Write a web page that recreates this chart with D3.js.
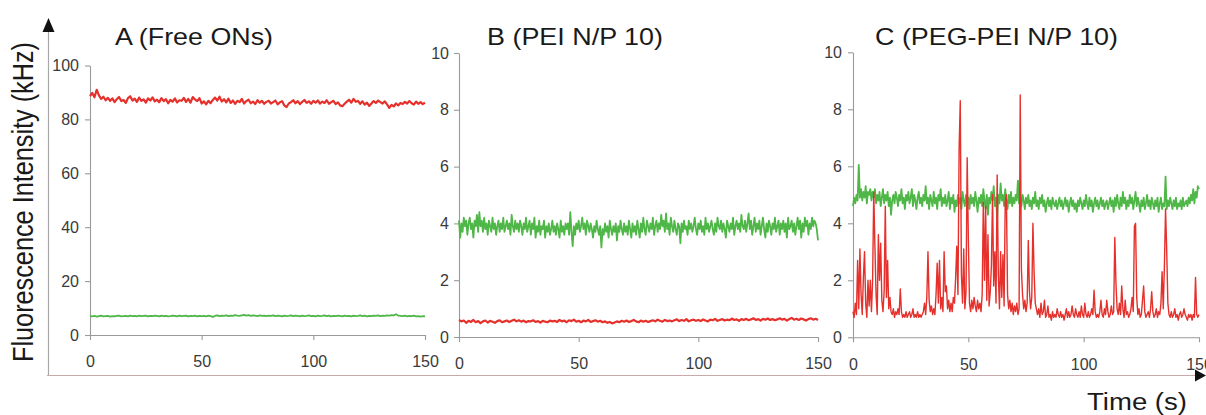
<!DOCTYPE html>
<html><head><meta charset="utf-8">
<script src="https://cdn.jsdelivr.net/npm/d3@7"></script>
<style>body{margin:0;background:#fff}svg text{font-family:"Liberation Sans",Arial,sans-serif}</style>
</head><body><svg id="c" width="1206" height="415"></svg>
<script>
// ---- data ----
const timeTicks = [0, 50, 100, 150];
const ticksA = [0, 20, 40, 60, 80, 100];
const ticksBC = [0, 2, 4, 6, 8, 10];
const titles = ["A (Free ONs)", "B (PEI N/P 10)", "C (PEG-PEI N/P 10)"];
const yTitle = "Fluorescence Intensity (kHz)";
const xTitle = "Time (s)";
const timeSpan = 150;

// Panel A, red (1 s sampling)
const redA = [
88.6,89.8,88.2,91.0,88.9,87.6,88.4,87.1,88.0,86.9,
87.8,86.4,87.5,88.3,86.8,87.2,86.1,87.9,88.6,87.0,
87.7,86.5,88.1,86.9,87.4,86.2,87.8,87.0,88.2,86.7,
87.3,86.4,87.9,86.8,87.5,86.0,87.2,86.6,87.8,86.3,
87.1,86.9,88.0,86.5,87.6,86.2,88.3,87.4,86.8,87.9,
85.9,86.7,85.6,86.9,86.0,87.2,88.1,87.0,88.4,86.6,
87.5,86.3,87.7,86.1,87.0,85.8,86.9,86.4,87.6,85.9,
86.8,87.3,86.0,86.6,85.7,87.1,86.2,86.9,85.8,86.5,
86.9,85.9,86.4,87.0,85.6,86.3,86.8,85.2,84.6,85.9,
86.4,87.1,86.0,86.8,85.7,86.5,87.2,86.1,86.7,85.8,
86.9,86.2,87.0,85.9,86.6,86.1,87.1,85.8,86.4,86.9,
85.7,86.3,85.2,84.9,85.8,86.6,87.3,86.2,87.6,86.5,
86.9,85.8,86.7,85.5,86.2,85.0,85.9,86.8,86.1,87.0,
86.4,85.9,86.7,85.6,84.3,85.4,84.8,85.9,85.2,86.1,
85.7,86.5,85.9,86.8,86.0,85.5,86.6,85.8,86.4,85.7,
86.2];
// Panel A, green (1 s sampling)
const greenA = [
7.0,6.9,7.1,6.8,7.0,7.2,6.9,7.0,7.1,6.8,
7.0,6.9,7.1,7.2,6.9,7.0,7.1,6.9,7.2,7.0,
7.1,6.9,7.2,7.0,7.1,7.2,6.9,7.1,7.0,7.2,
7.1,6.9,7.2,7.0,7.1,6.9,7.0,7.2,7.1,6.9,
7.2,7.0,7.1,7.2,6.9,7.1,7.0,7.2,6.9,7.1,
7.0,7.1,6.9,7.2,7.0,6.7,7.1,7.3,7.0,7.2,
7.1,7.3,7.0,7.2,7.1,7.4,7.2,7.1,7.3,7.5,
7.2,7.4,7.1,7.3,7.2,7.0,7.3,7.1,7.2,7.0,
7.2,7.1,7.3,7.0,7.2,7.1,6.9,7.2,7.0,7.1,
7.3,7.0,7.2,7.1,6.9,7.2,7.0,7.1,7.3,7.0,
7.1,6.9,7.2,7.0,7.1,7.3,7.0,7.2,6.9,7.1,
7.0,7.2,7.1,6.9,7.2,7.0,7.1,6.9,7.2,7.0,
7.1,7.3,7.0,7.2,6.9,7.1,7.0,7.2,7.1,7.3,
7.0,7.2,7.1,7.3,7.2,7.4,7.3,7.7,7.2,7.1,
7.0,7.2,6.9,7.1,7.0,7.2,6.9,7.0,6.8,7.0,
6.9];
// Panel B, red (1 s sampling)
const redB = [
0.60,0.55,0.58,0.50,0.57,0.53,0.60,0.52,0.56,0.49,
0.55,0.58,0.51,0.57,0.54,0.50,0.56,0.59,0.52,0.55,
0.58,0.53,0.57,0.61,0.55,0.59,0.54,0.58,0.52,0.56,
0.55,0.59,0.53,0.56,0.51,0.57,0.54,0.52,0.58,0.55,
0.57,0.53,0.60,0.55,0.58,0.52,0.59,0.56,0.61,0.54,
0.57,0.52,0.58,0.55,0.60,0.53,0.56,0.59,0.54,0.57,
0.52,0.55,0.50,0.53,0.48,0.51,0.55,0.52,0.57,0.54,
0.58,0.53,0.56,0.60,0.55,0.52,0.58,0.54,0.57,0.53,
0.56,0.59,0.55,0.61,0.57,0.54,0.60,0.56,0.58,0.55,
0.59,0.62,0.56,0.60,0.57,0.63,0.55,0.59,0.61,0.57,
0.60,0.56,0.62,0.58,0.55,0.61,0.59,0.64,0.57,0.60,
0.63,0.58,0.61,0.59,0.65,0.60,0.62,0.57,0.63,0.60,
0.64,0.59,0.62,0.66,0.60,0.63,0.58,0.64,0.61,0.65,
0.60,0.63,0.59,0.62,0.66,0.61,0.64,0.58,0.63,0.67,
0.61,0.64,0.60,0.65,0.62,0.58,0.63,0.66,0.61,0.64,
0.60];
// Panel B, green (0.5 s sampling)
const greenB = [
4.1,3.5,4.0,3.7,4.2,3.9,4.1,3.6,4.0,4.2,
3.8,4.0,3.5,4.1,3.9,4.3,3.7,4.4,3.9,4.1,
3.7,4.2,3.8,4.0,3.6,4.1,3.9,3.7,4.2,3.8,
4.0,3.6,3.9,4.1,3.7,4.0,3.8,4.2,3.7,3.9,
4.1,3.8,4.0,3.6,4.3,3.9,3.7,4.1,3.8,4.0,
3.7,4.1,3.9,3.6,4.0,3.8,4.2,3.7,3.9,4.1,
3.6,4.0,3.8,4.2,3.5,3.9,3.7,4.1,3.6,3.9,
3.8,4.1,3.5,3.9,3.7,4.0,3.6,3.8,4.1,3.7,
3.9,3.6,4.0,3.8,3.5,4.1,3.7,3.9,3.6,4.0,
3.8,4.0,3.6,4.4,3.7,3.2,3.9,3.6,4.0,3.8,
4.1,3.7,3.9,4.2,3.8,4.0,3.6,4.1,3.9,3.7,
4.0,3.8,3.5,3.9,3.7,4.1,3.8,3.6,3.9,3.15,
3.8,3.6,4.0,3.7,3.9,3.5,4.1,3.8,3.6,3.9,
3.7,4.0,3.4,3.9,3.7,4.1,3.8,3.6,4.0,3.7,
3.9,3.6,4.1,3.8,3.5,4.0,3.7,3.9,3.6,4.1,
3.8,3.5,4.0,3.7,4.2,3.8,3.6,4.1,3.9,3.7,
4.0,3.8,4.2,3.6,3.9,4.1,3.7,4.0,3.8,4.3,
3.9,4.1,3.7,4.35,3.8,4.0,3.6,4.2,3.9,3.7,
4.1,3.8,3.6,4.0,3.9,3.3,4.0,3.7,4.1,3.8,
3.9,3.6,4.1,3.8,4.0,3.7,3.9,4.2,3.8,3.6,
4.0,3.8,4.1,3.7,3.9,3.6,4.2,3.8,4.0,3.7,
3.9,4.1,3.8,3.6,4.0,3.7,4.2,3.9,3.8,4.1,
3.7,4.0,3.8,3.5,4.1,3.9,3.7,4.0,3.8,4.2,
3.6,3.9,4.1,3.8,4.0,3.7,4.3,3.9,3.8,4.1,
3.7,4.0,4.35,3.8,4.1,3.6,3.9,4.2,3.7,4.0,
3.8,4.1,3.6,3.9,4.2,3.8,3.5,4.0,3.7,4.1,
3.9,3.6,4.0,3.8,4.2,3.7,3.9,4.1,3.6,4.0,
3.8,4.1,3.7,4.0,3.5,4.2,3.8,3.9,4.1,3.7,
4.0,3.6,3.9,4.2,3.8,4.1,3.5,4.0,3.7,4.2,
3.9,4.1,3.6,4.0,3.8,4.2,3.9,4.1,4.0,3.8,
3.4];
// Panel C, red (0.5 s sampling)
const redC = [
0.9,0.7,1.2,0.8,2.7,1.0,3.1,1.5,0.8,2.1,
3.0,1.2,0.7,2.0,1.1,2.0,0.9,2.0,5.1,3.2,
1.5,0.8,3.6,2.0,3.3,1.3,0.9,1.6,4.6,1.4,
2.7,1.0,1.4,0.9,0.8,1.0,0.7,0.9,0.8,1.0,
0.8,1.7,0.9,0.7,0.8,0.7,0.9,0.7,0.8,0.9,
0.7,0.8,1.0,0.7,0.8,0.7,0.9,0.7,0.8,0.7,
0.8,0.9,1.2,0.8,1.4,3.0,1.3,0.9,1.1,0.8,
1.0,0.8,1.5,2.6,1.2,2.7,1.0,1.4,0.9,3.0,
1.6,1.8,1.0,1.3,0.9,1.2,0.9,1.4,1.2,2.1,
3.2,1.5,6.6,8.3,2.2,1.2,3.1,1.0,1.6,6.3,
3.5,1.2,0.9,1.3,1.0,1.4,1.1,0.9,1.3,1.0,
1.2,0.9,1.5,4.75,2.0,4.6,1.3,3.6,1.1,1.6,
2.5,5.0,1.8,3.0,1.2,5.7,2.2,1.0,3.0,1.4,
2.9,1.1,4.75,5.0,1.5,1.0,1.3,0.9,1.2,0.8,
1.1,0.9,1.2,0.8,1.0,8.5,2.4,1.5,1.0,1.3,
0.9,1.2,3.4,1.6,1.0,1.4,4.0,2.3,1.2,1.0,
0.8,1.0,0.7,1.2,0.8,0.9,1.3,0.7,0.8,1.1,
0.7,0.8,0.6,0.9,0.7,0.8,0.7,1.0,0.8,0.7,
0.9,0.7,0.8,0.6,0.8,1.0,0.7,0.9,0.7,0.8,
1.1,0.8,0.7,1.0,0.8,0.7,0.9,0.7,1.1,0.8,
0.7,1.2,0.8,0.7,0.9,0.7,0.8,1.0,0.8,1.65,
0.9,0.7,0.8,0.7,0.9,1.3,0.8,0.7,1.0,0.8,
1.3,0.9,0.7,0.8,1.1,0.8,0.9,3.5,1.9,1.0,
0.8,1.2,0.8,1.8,1.0,0.7,1.3,0.8,0.9,0.7,
0.8,1.0,1.4,0.9,3.9,4.0,1.4,0.8,1.0,0.7,
0.8,1.3,1.8,0.9,0.7,0.8,0.9,0.7,1.0,1.6,
0.9,0.7,0.8,1.0,0.7,0.9,0.8,1.2,2.3,1.0,
2.5,4.5,3.05,1.2,0.8,0.7,0.9,0.7,0.8,1.0,
0.7,0.8,0.6,0.8,0.9,0.7,0.8,1.0,0.8,0.7,
0.6,0.8,0.7,0.8,0.6,0.8,0.7,2.1,0.8,0.7,
0.8];
// Panel C, green (0.5 s sampling)
const greenC = [
4.6,4.9,4.7,5.0,4.8,6.05,4.9,5.2,4.8,5.1,
4.9,5.3,4.7,5.1,5.0,5.2,4.8,5.1,4.9,5.2,
4.7,5.0,4.8,5.1,4.6,4.9,5.2,4.7,5.0,4.8,
5.1,4.6,4.9,4.3,4.8,5.0,4.7,5.1,4.9,4.6,
5.0,4.8,5.2,4.7,4.9,4.5,5.0,4.8,5.1,4.7,
4.9,5.2,4.6,5.0,4.8,4.5,4.9,5.1,4.7,4.9,
4.6,5.0,4.8,5.3,4.7,4.9,4.5,5.0,4.8,4.6,
5.1,4.7,4.9,4.5,5.0,4.8,5.2,4.6,4.9,4.7,
5.0,4.6,4.8,5.1,4.5,4.9,4.7,5.0,4.4,4.8,
4.6,5.0,4.7,4.9,4.5,5.1,4.8,4.6,5.0,4.7,
4.9,4.5,5.0,4.7,4.9,4.6,5.1,4.8,4.4,4.9,
4.7,5.0,4.6,5.2,4.8,4.5,5.0,4.3,4.9,4.7,
5.1,4.8,5.3,4.6,4.9,4.2,5.0,4.7,5.4,4.8,
5.0,4.6,5.2,4.8,4.5,5.0,4.7,5.1,4.6,4.9,
4.7,5.0,4.8,5.5,4.7,4.9,4.6,5.0,4.8,4.5,
4.9,4.7,5.0,4.6,4.8,4.5,4.9,4.7,5.1,4.6,
4.8,4.5,4.9,4.7,5.0,4.6,4.8,4.4,4.7,4.9,
4.6,4.8,4.5,4.9,4.7,4.6,4.8,4.5,4.7,4.9,
4.6,4.8,4.5,4.7,4.9,4.6,4.8,4.4,4.7,4.9,
4.6,4.8,4.5,4.7,4.4,4.8,4.6,4.9,4.7,4.5,
4.8,4.6,5.0,4.7,4.5,4.9,4.6,4.8,4.4,4.7,
4.9,4.6,4.8,4.5,4.7,4.9,4.6,4.8,4.5,4.7,
4.8,4.5,4.7,4.9,4.6,4.8,4.4,4.9,4.6,5.0,
4.7,4.5,4.9,4.6,5.1,4.7,4.9,4.5,4.8,4.6,
5.0,4.7,4.9,4.5,4.8,5.1,4.6,4.9,4.7,4.4,
4.8,4.6,4.9,4.5,4.7,5.0,4.6,4.8,4.5,4.9,
4.7,4.5,4.8,4.6,4.9,4.4,4.7,4.9,4.5,4.7,
4.6,5.64,4.5,4.8,4.6,4.9,4.7,4.5,4.8,4.6,
4.9,4.5,4.7,4.6,4.8,4.5,4.9,4.6,4.7,4.8,
4.6,4.9,4.7,5.0,4.8,5.2,4.7,5.1,4.9,5.3,
5.2];

// ---- drawing ----
const RED = "#e5302b", GREEN = "#4fb747", AXIS = "#9a9a9a", LABEL = "#3a3a3a";
const svg = d3.select("#c");

const panels = [
  {title: titles[0], ticks: ticksA, ymax: 100, x0: 90, x1: 425, yb: 335, yt: 65.5, tcx: 194, tlen: 158, pad: 6, red: redA, green: greenA, wR: 2.2, wG: 1.8},
  {title: titles[1], ticks: ticksBC, ymax: 10, x0: 459, x1: 818, yb: 337, yt: 53, tcx: 575, tlen: 176, pad: 5, red: redB, green: greenB, wR: 2.2, wG: 1.8},
  {title: titles[2], ticks: ticksBC, ymax: 10, x0: 853, x1: 1199, yb: 337.3, yt: 52.3, tcx: 996.5, tlen: 243, pad: 6, red: redC, green: greenC, wR: 1.4, wG: 1.8}
];

// outer axes with arrows
svg.append("line").attr("x1", 48.5).attr("x2", 48.5).attr("y1", 376).attr("y2", 30)
  .attr("stroke", "#a8a8a8").attr("stroke-width", 1.2);
svg.append("path").attr("d", "M48.5,18 L42.5,32 L54.5,32 Z").attr("fill", "#111");
svg.append("line").attr("x1", 47).attr("x2", 1198).attr("y1", 375.5).attr("y2", 375.5)
  .attr("stroke", "#c9a9a9").attr("stroke-width", 1.2);
svg.append("path").attr("d", "M1206,375.5 L1195,369.5 L1195,381.5 Z").attr("fill", "#111");

panels.forEach(p => {
  const x = d3.scaleLinear().domain([0, timeSpan]).range([p.x0, p.x1]);
  const y = d3.scaleLinear().domain([0, p.ymax]).range([p.yb, p.yt]);
  const g = svg.append("g");

  const ya = g.append("g").attr("transform", `translate(${p.x0},0)`)
    .call(d3.axisLeft(y).tickValues(p.ticks).tickSize(5).tickSizeOuter(0).tickPadding(p.pad));
  const xa = g.append("g").attr("transform", `translate(0,${p.yb})`)
    .call(d3.axisBottom(x).tickValues(timeTicks).tickSize(5).tickSizeOuter(0).tickPadding(16));
  [ya, xa].forEach(a => {
    a.selectAll("path,line").attr("stroke", AXIS).attr("stroke-width", 1.1);
    a.selectAll("text").attr("fill", LABEL).style("font-size", "16px");
  });

  const mk = arr => {
    const dt = timeSpan / (arr.length - 1);
    return d3.line().x((d, i) => x(i * dt)).y(d => y(d))(arr);
  };
  g.append("path").attr("d", mk(p.green)).attr("fill", "none").attr("stroke", GREEN)
    .attr("stroke-width", p.wG).attr("stroke-linejoin", "round");
  g.append("path").attr("d", mk(p.red)).attr("fill", "none").attr("stroke", RED)
    .attr("stroke-width", p.wR).attr("stroke-linejoin", "round");

  svg.append("text").attr("x", p.tcx).attr("y", 45).attr("text-anchor", "middle")
    .attr("textLength", p.tlen).attr("lengthAdjust", "spacingAndGlyphs")
    .style("font-size", "24px").attr("fill", "#1a1a1a").text(p.title);
});

svg.append("text").attr("transform", "translate(33,202) scale(1.15,1) rotate(-90)")
  .attr("text-anchor", "middle").attr("textLength", 320).attr("lengthAdjust", "spacingAndGlyphs")
  .style("font-size", "25px").attr("fill", "#1a1a1a").text(yTitle);

svg.append("text").attr("x", 1087).attr("y", 410)
  .attr("textLength", 100).attr("lengthAdjust", "spacingAndGlyphs")
  .style("font-size", "23px").attr("fill", "#1a1a1a").text(xTitle);
</script></body></html>
